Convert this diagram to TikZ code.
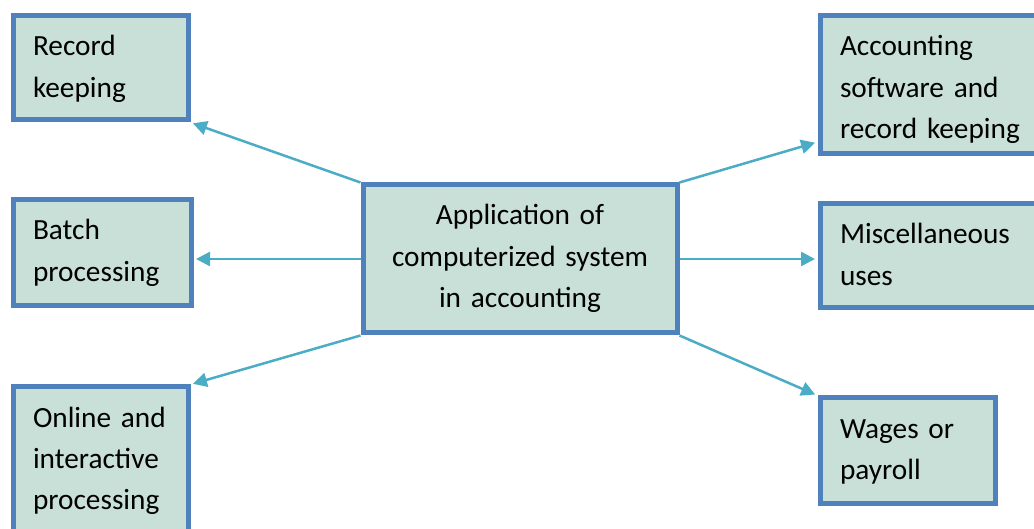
\documentclass[tikz,border=0pt]{standalone}
\usepackage{fontspec}
\setmainfont{Carlito}
\usetikzlibrary{arrows.meta}
\definecolor{boxblue}{RGB}{79,129,189}
\definecolor{boxfill}{RGB}{200,224,216}
\definecolor{arrowblue}{RGB}{75,172,198}
\tikzset{
    box/.style={draw=boxblue,line width=5pt,fill=boxfill,anchor=north west,
        inner xsep=20pt,inner ysep=0pt,align=left,text height=40pt,
        font={\fontsize{29.3}{41.5}\selectfont\hyphenpenalty=10000}},
    link/.style={draw=arrowblue,line width=2.5pt,shorten >=2.5pt,
        -{Triangle[length=14pt,width=14pt]}}
}
\begin{document}
\begin{tikzpicture}[x=1pt,y=-1pt]
        \useasboundingbox (0,0) rectangle (1034,529);
        %% Blocks
        \node[box,text width=135pt,text depth=64pt] (rk) at (10.5,13.5) {Record\\keeping};
        \node[box,text width=138pt,text depth=66pt] (bp) at (10.5,197.5) {Batch\\processing};
        \node[box,text width=135pt,text depth=118pt] (oi) at (10.5,384.5) {Online~and\\interactive\\processing};
        \node[box,inner xsep=10pt,align=center,text width=294pt,text depth=108pt] (cn) at (360.5,182.5) {Application~of\\computerized~system\\in~accounting};
        \node[box,text width=185pt,text depth=98pt] (as) at (817.5,13.5) {Accounting\\software~and\\record~keeping};
        \node[box,text width=185pt,text depth=64pt] (ms) at (817.5,201.5) {Miscellaneous\\uses};
        \node[box,text width=135pt,text depth=65pt] (wg) at (817.5,395.5) {Wages~or\\payroll};
        %% arrows
        \draw[link] (cn.north west) -- (rk.south east);
        \draw[link] (cn.west) -- (cn.west -| bp.east);
        \draw[link] (cn.south west) -- (oi.north east);
        \draw[link] (cn.north east) -- ([yshift=14.5pt]as.south west);
        \draw[link] (cn.east) -- (cn.east -| ms.west);
        \draw[link] (cn.south east) -- (wg.north west);
    \end{tikzpicture}
\end{document}
